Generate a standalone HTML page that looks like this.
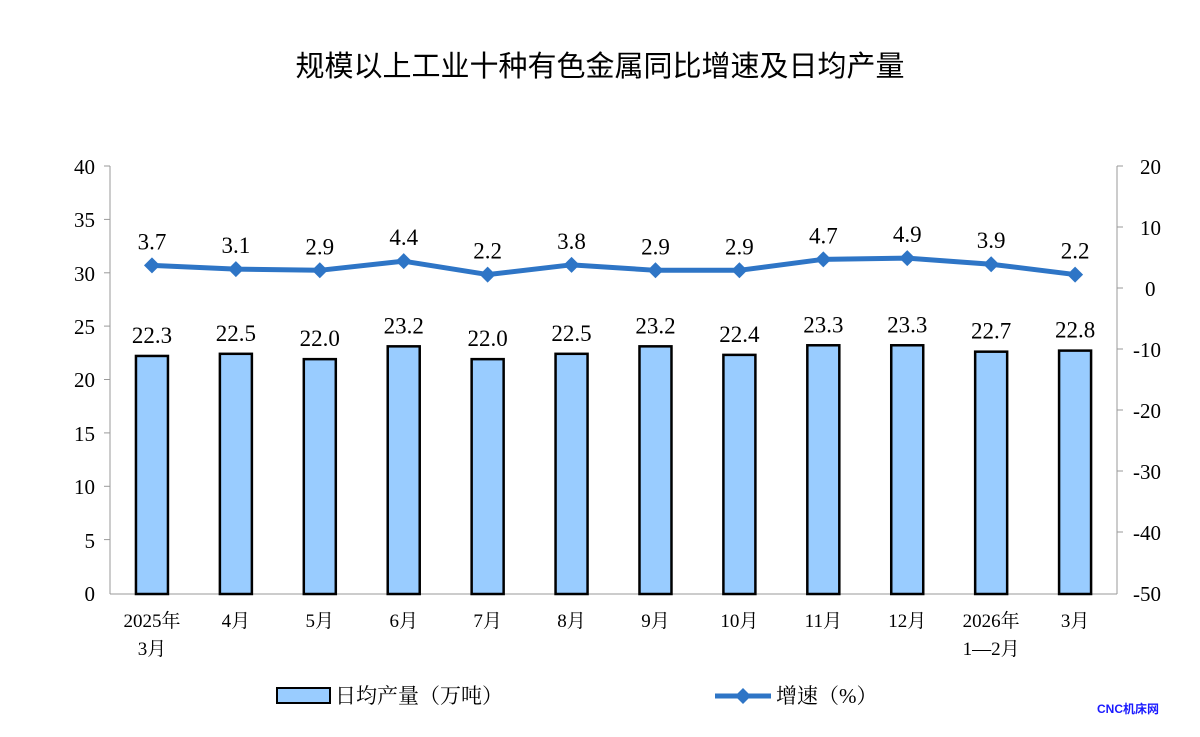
<!DOCTYPE html>
<html><head><meta charset="utf-8"><style>body{margin:0;background:#fff}svg{display:block}</style></head><body>
<svg width="1200" height="737" xmlns="http://www.w3.org/2000/svg" font-family="'Liberation Serif','Noto Serif CJK SC',serif">
<text x="600" y="76" text-anchor="middle" font-family="'Liberation Sans','Noto Sans CJK SC',sans-serif" font-size="29" fill="#000">规模以上工业十种有色金属同比增速及日均产量</text>
<g stroke="#999" stroke-width="1">
<line x1="110" y1="166" x2="110" y2="594"/><line x1="1117" y1="166" x2="1117" y2="594"/><line x1="110" y1="594" x2="1117" y2="594"/>
<line x1="104" y1="166" x2="110" y2="166"/><line x1="104" y1="219.4" x2="110" y2="219.4"/><line x1="104" y1="272.8" x2="110" y2="272.8"/><line x1="104" y1="326.1" x2="110" y2="326.1"/><line x1="104" y1="379.5" x2="110" y2="379.5"/><line x1="104" y1="432.9" x2="110" y2="432.9"/><line x1="104" y1="486.3" x2="110" y2="486.3"/><line x1="104" y1="539.6" x2="110" y2="539.6"/>
<line x1="1117" y1="166" x2="1123" y2="166"/><line x1="1117" y1="227" x2="1123" y2="227"/><line x1="1117" y1="288" x2="1123" y2="288"/><line x1="1117" y1="349" x2="1123" y2="349"/><line x1="1117" y1="410" x2="1123" y2="410"/><line x1="1117" y1="471" x2="1123" y2="471"/><line x1="1117" y1="532" x2="1123" y2="532"/>
</g>
<g font-size="21" fill="#000" text-anchor="end">
<text x="95" y="174">40</text><text x="95" y="227">35</text><text x="95" y="281">30</text><text x="95" y="334">25</text><text x="95" y="387">20</text><text x="95" y="441">15</text><text x="95" y="494">10</text><text x="95" y="548">5</text><text x="95" y="601">0</text>
</g>
<g font-size="21" fill="#000" text-anchor="start">
<text x="1140" y="174">20</text><text x="1140" y="235">10</text><text x="1145" y="296">0</text><text x="1133" y="357">-10</text><text x="1133" y="418">-20</text><text x="1133" y="479">-30</text><text x="1133" y="540">-40</text><text x="1133" y="601">-50</text>
</g>
<g fill="#99ccff" stroke="#000" stroke-width="2.5" id="bars"></g>
<g font-size="23" fill="#000" text-anchor="middle" id="blab"></g>
<g font-size="19" fill="#000" text-anchor="middle" id="xlab"></g>
<polyline id="ln" fill="none" stroke="#2e75c6" stroke-width="5" stroke-linejoin="round"/>
<g fill="#2e75c6" id="dm"></g>
<g font-size="23" fill="#000" text-anchor="middle" id="llab"></g>
<rect x="277" y="688" width="53" height="15" fill="#99ccff" stroke="#000" stroke-width="2"/>
<text x="335" y="703" font-size="21">日均产量（万吨）</text>
<line x1="715" y1="696" x2="771" y2="696" stroke="#2e75c6" stroke-width="5"/>
<path d="M743 688 L751 696 L743 704 L735 696Z" fill="#2e75c6"/>
<text x="776" y="703" font-size="21">增速（%）</text>
<text x="1128" y="713" font-size="12" font-weight="bold" fill="#1a1aff" text-anchor="middle" font-family="'Liberation Sans','Noto Sans CJK SC',sans-serif">CNC机床网</text>
</svg>
<script>
const bars=[22.3,22.5,22.0,23.2,22.0,22.5,23.2,22.4,23.3,23.3,22.7,22.8];
const gr=[3.7,3.1,2.9,4.4,2.2,3.8,2.9,2.9,4.7,4.9,3.9,2.2];
const xl=[["2025年","3月"],["4月"],["5月"],["6月"],["7月"],["8月"],["9月"],["10月"],["11月"],["12月"],["2026年","1—2月"],["3月"]];
const ns="http://www.w3.org/2000/svg";
function el(p,t,a,txt){const e=document.createElementNS(ns,t);for(const k in a)e.setAttribute(k,a[k]);if(txt)e.textContent=txt;document.getElementById(p).appendChild(e);}
let pts=[];
bars.forEach((v,i)=>{const cx=110+83.92*(i+0.5);const y=594-v*10.675;
el("bars","rect",{x:cx-16,y:y,width:32,height:594-y});
el("blab","text",{x:cx,y:y-13},v.toFixed(1));
const ly=288-gr[i]*6.1;pts.push(cx+","+ly);
el("dm","path",{d:`M${cx} ${ly-8}L${cx+8} ${ly}L${cx} ${ly+8}L${cx-8} ${ly}Z`});
el("llab","text",{x:cx,y:ly-16},gr[i].toFixed(1));
xl[i].forEach((s,j)=>el("xlab","text",{x:cx,y:627+j*28},s));});
document.getElementById("ln").setAttribute("points",pts.join(" "));
</script>
</body></html>
